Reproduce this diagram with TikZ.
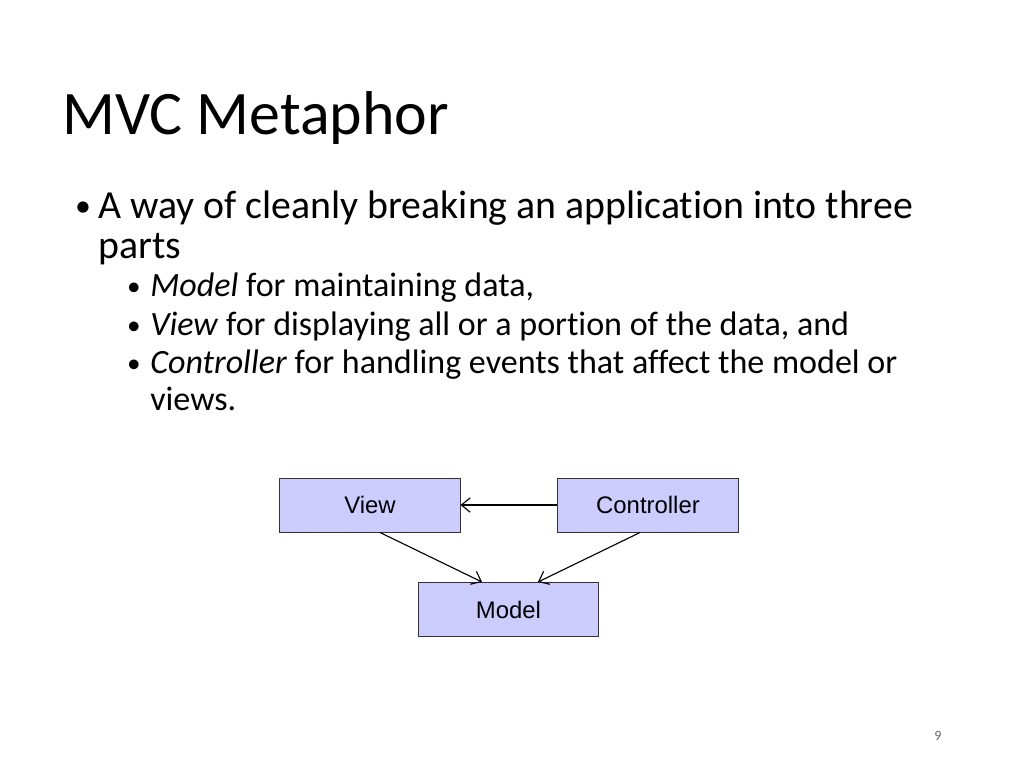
\documentclass[tikz,border=0pt]{standalone}
\usepackage{fontspec}
\setmainfont[RawFeature={-liga;-clig}]{Carlito}
\newfontfamily\arialfont{Liberation Sans}
\usetikzlibrary{positioning,arrows.meta}
\tikzset{
	mvc box/.style={draw=black!80,line width=0.7pt,fill=blue!20!white,minimum width=4.5cm,minimum height=1.35cm,
		font=\arialfont\fontsize{17}{20}\selectfont,inner sep=0pt},
	mvc arrow/.style={line width=0.8pt,-{Straight Barb[length=2.2mm,width=3.6mm]}},
	bullet text/.style={anchor=base west,inner sep=0pt,font=\fontsize{28.3}{32}\selectfont},
	sub text/.style={anchor=base west,inner sep=0pt,font=\fontsize{24.2}{28}\selectfont}
}

\begin{document}
\begin{tikzpicture}[x=0.025cm,y=-0.025cm]
		\useasboundingbox (0,0) rectangle (1024,768);
		\node[anchor=base west,inner sep=0pt,font=\fontsize{44}{50}\selectfont] (title) at (62,135) {MVC Metaphor};
		% bullets
		\node[bullet text,scale=0.8] (b1) at (75,216) {•};
		\node[bullet text] (l1) at (98,218) {A way of cleanly breaking an application into three};
		\node[bullet text] (l2) at (98,258) {parts};
		\node[sub text,scale=0.8] (s1) at (127,295) {•};
		\node[sub text] (m1) at (150,296) {\textit{Model} for maintaining data,};
		\node[sub text,scale=0.8] (s2) at (127,334) {•};
		\node[sub text] (m2) at (150,335) {\textit{View} for displaying all or a portion of the data, and};
		\node[sub text,scale=0.8] (s3) at (127,372) {•};
		\node[sub text] (m3) at (150,373) {\textit{Controller} for handling events that affect the model or};
		\node[sub text] (m4) at (150,410) {views.};
		% diagram
		\node[mvc box] (view) at (370,505) {View};
		\node[mvc box] (ctrl) at (648,505) {Controller};
		\node[mvc box] (model) at (508.5,609.5) {Model};
		\draw[mvc arrow] (ctrl) -- (view);
		\draw[mvc arrow] (view.south) ++(10,0) coordinate (vs) (vs) -- (model.north west -| 482,0) ;
		\draw[mvc arrow] (ctrl.south) ++(-8,0) coordinate (cs) (cs) -- (model.north west -| 538,0);
		\node[anchor=base,font=\fontsize{10}{12}\selectfont,text=black!60] (page) at (938,740) {9};
\end{tikzpicture}
\end{document}
